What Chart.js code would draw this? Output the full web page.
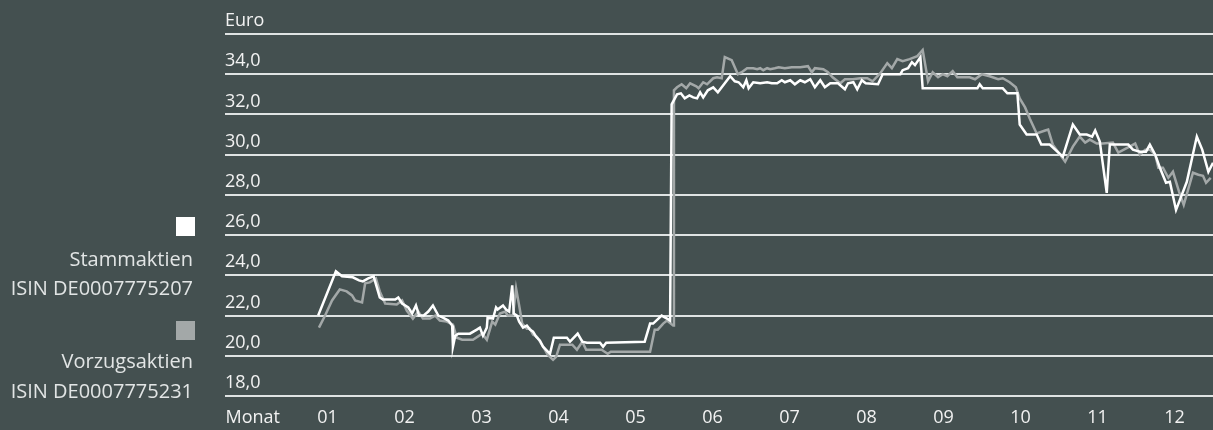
<!DOCTYPE html>
<html>
<head>
<meta charset="utf-8">
<script src="https://cdn.jsdelivr.net/npm/chart.js@4.4.0/dist/chart.umd.min.js"></script>
<style>
  html, body { margin: 0; padding: 0; background: #445050; }
  #wrap { position: relative; width: 1213px; height: 430px; overflow: hidden; font-family: "Open Sans", sans-serif; }
  canvas { position: absolute; left: 0; top: 0; }
  .sq { position: absolute; left: 176px; width: 19px; height: 19px; }
  .lg { position: absolute; right: 1020px; font-size: 20px; line-height: 27px; color: #e2e5e5; white-space: nowrap; text-align: right; }
</style>
</head>
<body>
<div id="wrap">
  <canvas id="kurs" width="1213" height="430"></canvas>
  <div class="sq" style="top:217px; background:#ffffff"></div>
  <div class="lg" style="top:245px">Stammaktien</div>
  <div class="lg" style="top:274px">ISIN DE0007775207</div>
  <div class="sq" style="top:321px; background:#a3a8a8"></div>
  <div class="lg" style="top:347px">Vorzugsaktien</div>
  <div class="lg" style="top:377px">ISIN DE0007775231</div>
</div>
<script>
// Monate (x-Achse in Monatseinheiten, 0 = Anfang Januar)
var monthLabels = ['01', '02', '03', '04', '05', '06', '07', '08', '09', '10', '11', '12']
var xAxisTitle = 'Monat'
var yAxisTitle = 'Euro'
var yTicks = [18, 20, 22, 24, 26, 28, 30, 32, 34, 36]

// Stammaktien ISIN DE0007775207
var stammX = [0.38, 0.61, 0.69, 0.83, 0.91, 0.96, 1.03, 1.10, 1.18, 1.22, 1.38, 1.42, 1.47, 1.55, 1.60, 1.65, 1.69, 1.75, 1.81, 1.87,
  1.94, 2.00, 2.07, 2.12, 2.13, 2.16, 2.20, 2.35, 2.44, 2.48, 2.52, 2.57, 2.58, 2.65, 2.69, 2.71, 2.78, 2.82, 2.86, 2.90,
  2.92, 2.96, 2.99, 3.04, 3.09, 3.13, 3.17, 3.21, 3.26, 3.30, 3.39, 3.44, 3.61, 3.65, 3.75, 3.81, 3.87, 4.04, 4.08, 4.12,
  4.62, 4.69, 4.73, 4.84, 4.91, 4.95, 4.97, 5.04, 5.09, 5.14, 5.20, 5.25, 5.30, 5.34, 5.38, 5.44, 5.51, 5.57, 5.66, 5.73,
  5.79, 5.84, 5.90, 5.94, 5.97, 6.03, 6.12, 6.21, 6.27, 6.34, 6.40, 6.44, 6.51, 6.57, 6.64, 6.70, 6.77, 6.83, 6.90, 6.96,
  7.03, 7.13, 7.22, 7.26, 7.33, 7.38, 7.44, 7.49, 7.65, 7.71, 7.94, 7.97, 8.04, 8.09, 8.13, 8.20, 8.23, 8.94, 8.97, 9.01,
  9.27, 9.33, 9.46, 9.49, 9.58, 9.71, 9.77, 9.88, 10.05, 10.18, 10.27, 10.36, 10.43, 10.47, 10.53, 10.62, 10.66, 10.90, 10.96, 11.05,
  11.13, 11.18, 11.25, 11.31, 11.39, 11.44, 11.52, 11.57, 11.66, 11.79, 11.86, 11.94, 12.00]
var stammY = [22.0, 24.2, 23.95, 23.9, 23.75, 23.7, 23.85, 23.95, 22.9, 22.8, 22.8, 22.9, 22.6, 22.4, 22.1, 22.5, 22.0, 22.0, 22.2, 22.5,
  22.0, 21.9, 21.75, 21.5, 20.45, 21.0, 21.1, 21.1, 21.3, 21.4, 21.0, 21.4, 21.9, 21.85, 22.4, 22.3, 22.5, 22.3, 22.2, 23.5,
  22.1, 22.0, 21.7, 21.4, 21.5, 21.3, 21.2, 20.95, 20.75, 20.45, 20.1, 20.9, 20.9, 20.7, 21.1, 20.7, 20.65, 20.65, 20.45, 20.65,
  20.7, 21.6, 21.6, 22.0, 21.85, 21.75, 32.5, 33.0, 33.05, 32.8, 32.95, 32.85, 32.8, 33.1, 32.85, 33.2, 33.35, 33.1, 33.55, 33.9,
  33.65, 33.6, 33.35, 33.7, 33.3, 33.6, 33.55, 33.6, 33.55, 33.55, 33.7, 33.6, 33.7, 33.5, 33.7, 33.6, 33.75, 33.35, 33.7, 33.35,
  33.55, 33.55, 33.25, 33.55, 33.6, 33.25, 33.7, 33.55, 33.5, 34.0, 34.0, 34.2, 34.3, 34.6, 34.45, 34.85, 33.3, 33.3, 33.5, 33.3,
  33.3, 33.05, 33.05, 31.5, 31.0, 31.0, 30.5, 30.5, 29.9, 31.5, 31.0, 31.0, 30.9, 31.2, 30.65, 28.1, 30.5, 30.5, 30.25, 30.15,
  30.15, 30.5, 30.0, 29.35, 28.6, 28.65, 27.25, 27.75, 28.65, 30.9, 30.25, 29.15, 29.6]

// Vorzugsaktien ISIN DE0007775231
var vorzugX = [0.39, 0.47, 0.56, 0.66, 0.75, 0.82, 0.86, 0.95, 0.99, 1.05, 1.13, 1.18, 1.25, 1.40, 1.47, 1.53, 1.61, 1.68, 1.74, 1.83,
  1.90, 1.96, 2.05, 2.13, 2.18, 2.25, 2.39, 2.51, 2.57, 2.64, 2.68, 2.74, 2.81, 2.84, 2.91, 2.95, 2.99, 3.03, 3.09, 3.13,
  3.17, 3.22, 3.26, 3.31, 3.36, 3.43, 3.47, 3.52, 3.68, 3.74, 3.81, 3.86, 4.06, 4.10, 4.14, 4.18, 4.69, 4.75, 4.79, 4.86,
  4.91, 4.99, 5.00, 5.04, 5.10, 5.16, 5.21, 5.29, 5.32, 5.38, 5.43, 5.51, 5.56, 5.62, 5.66, 5.75, 5.83, 5.88, 5.95, 6.03,
  6.08, 6.12, 6.16, 6.21, 6.25, 6.31, 6.36, 6.44, 6.53, 6.64, 6.74, 6.79, 6.83, 6.94, 7.00, 7.06, 7.16, 7.22, 7.32, 7.42,
  7.51, 7.58, 7.68, 7.77, 7.83, 7.90, 7.97, 8.06, 8.16, 8.23, 8.30, 8.36, 8.43, 8.49, 8.55, 8.62, 8.68, 8.84, 8.91, 9.00,
  9.10, 9.21, 9.27, 9.36, 9.44, 9.49, 9.56, 9.62, 9.71, 9.82, 9.86, 9.92, 10.08, 10.18, 10.27, 10.34, 10.40, 10.49, 10.57, 10.70,
  10.77, 10.99, 11.05, 11.12, 11.18, 11.25, 11.29, 11.35, 11.42, 11.48, 11.56, 11.62, 11.74, 11.81, 11.87, 11.91, 11.97]
var vorzugY = [21.4, 22.0, 22.75, 23.3, 23.2, 23.0, 22.75, 22.65, 23.6, 23.65, 23.85, 23.2, 22.6, 22.55, 22.75, 22.25, 21.85, 22.2, 21.85, 21.85,
  22.0, 21.75, 21.7, 21.55, 20.9, 20.8, 20.8, 21.1, 20.8, 21.7, 21.55, 22.1, 22.2, 22.0, 22.0, 23.35, 22.5, 21.6, 21.35, 21.35,
  21.05, 20.95, 20.7, 20.4, 20.05, 19.8, 19.95, 20.55, 20.55, 20.3, 20.7, 20.3, 20.3, 20.2, 20.1, 20.2, 20.2, 21.3, 21.3, 21.6,
  21.75, 21.5, 33.2, 33.35, 33.5, 33.3, 33.55, 33.4, 33.3, 33.6, 33.5, 33.8, 33.85, 33.8, 34.85, 34.7, 34.0, 34.1, 34.3, 34.3,
  34.25, 34.3, 34.2, 34.3, 34.25, 34.3, 34.35, 34.3, 34.35, 34.35, 34.4, 34.1, 34.3, 34.25, 34.1, 33.85, 33.55, 33.75, 33.75, 33.8,
  33.8, 33.65, 34.05, 34.55, 34.3, 34.75, 34.65, 34.75, 34.9, 35.2, 33.65, 34.1, 33.85, 34.0, 33.9, 34.15, 33.85, 33.85, 33.75, 34.0,
  33.9, 33.75, 33.8, 33.6, 33.35, 32.8, 32.35, 31.8, 31.05, 31.2, 31.25, 30.5, 29.65, 30.4, 30.9, 30.6, 30.75, 30.55, 30.55, 30.6,
  30.1, 30.55, 30.0, 30.25, 30.25, 30.0, 29.35, 29.35, 28.85, 29.15, 28.15, 27.5, 29.1, 29.0, 28.95, 28.6, 28.85]

function toPoints(xs, ys) {
  return xs.map(function (x, i) { return {x: x, y: ys[i]} })
}

var ctx = document.getElementById('kurs')

new Chart(ctx, {
  type: 'line',
  data: {
    datasets: [
      {
        label: 'Stammaktien',
        data: toPoints(stammX, stammY),
        borderColor: '#ffffff',
        borderWidth: 2.5
      },
      {
        label: 'Vorzugsaktien',
        data: toPoints(vorzugX, vorzugY),
        borderColor: '#a3a8a8',
        borderWidth: 2.5
      }
    ]
  },
  options: {
    responsive: false,
    animation: false,
    devicePixelRatio: 1,
    layout: { padding: { left: 225, top: 34, right: 0, bottom: 0 } },
    elements: { point: { radius: 0 }, line: { tension: 0 } },
    plugins: { legend: { display: false }, tooltip: { enabled: false } },
    scales: {
      x: {
        type: 'linear',
        min: -0.83,
        max: 12,
        grid: { display: false },
        border: { display: false },
        afterBuildTicks: function (axis) {
          var t = [{value: -0.47}]
          monthLabels.forEach(function (l, i) { t.push({value: i + 0.5}) })
          axis.ticks = t
        },
        afterFit: function (axis) { axis.height = 34 },
        ticks: {
          autoSkip: false,
          maxRotation: 0,
          padding: 3,
          color: '#f2f2f2',
          font: { family: 'Open Sans', size: 18 },
          callback: function (value, index) {
            return index === 0 ? xAxisTitle : monthLabels[index - 1]
          }
        }
      },
      y: {
        min: 18,
        max: 36,
        afterBuildTicks: function (axis) {
          axis.ticks = yTicks.map(function (v) { return {value: v} })
        },
        afterFit: function (axis) { axis.width = 0 },
        grid: { color: '#dfe3e3', lineWidth: 2, drawTicks: false },
        border: { display: false },
        ticks: {
          mirror: true,
          padding: 0,
          labelOffset: -13,
          color: '#f2f2f2',
          font: { family: 'Open Sans', size: 18 },
          callback: function (value) {
            return value === 36 ? yAxisTitle : value.toFixed(1).replace('.', ',')
          }
        }
      }
    }
  }
})
</script>
</body>
</html>
